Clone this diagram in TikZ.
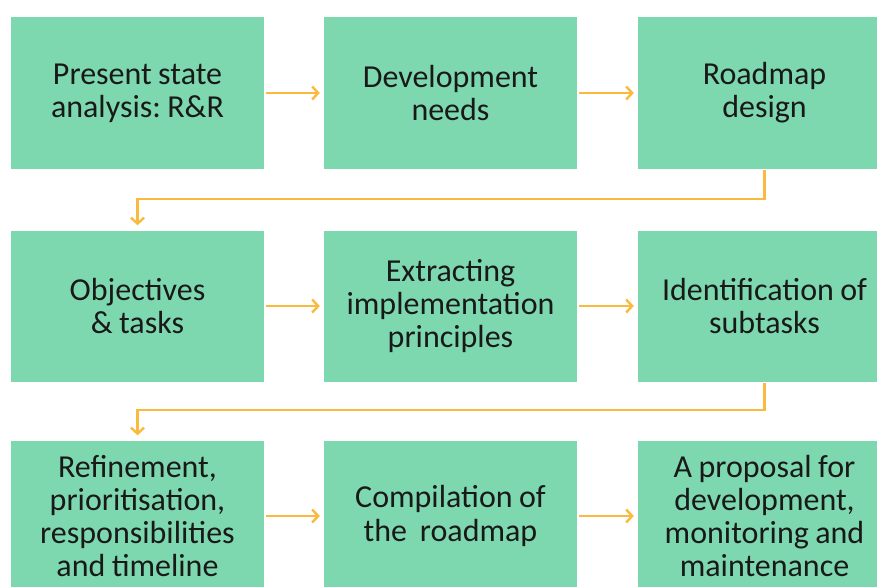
\documentclass[tikz,border=0pt]{standalone}
\usepackage{fontspec}
\setmainfont{Carlito}
\usetikzlibrary{arrows.meta}
\definecolor{boxgreen}{RGB}{125,216,176}
\definecolor{arrorange}{RGB}{250,186,62}
\newcommand\tightsp{\frenchspacing\spaceskip=0.2em\xspaceskip=0.2em\relax}
\begin{document}
\begin{tikzpicture}[x=1pt,y=-1pt,
  stepbox/.style={fill=boxgreen,draw=none,minimum width=253pt,minimum height=151pt,
    inner sep=0pt,text width=250pt,align=center,
    font=\fontsize{32}{33.2}\selectfont,text=black!90},
  conn/.style={draw=arrorange,line width=2.4pt,
    -{Straight Barb[length=6pt,width=13pt,line width=2.4pt]}}]
\useasboundingbox (0,0) rectangle (877,586);
\node[stepbox] (a) at (137.5,93) {\tightsp Present state\\analysis: R\&R};
\node[stepbox] (b) at (450.5,93) {\tightsp Development\\needs};
\node[stepbox] (c) at (764.5,93) {\tightsp Roadmap\\design};
\node[stepbox] (d) at (137.5,306) {\tightsp Objectives\\\& tasks};
\node[stepbox] (e) at (450.5,306) {\tightsp Extracting\\implementation\\principles};
\node[stepbox] (f) at (764.5,306) {\tightsp Identification of\\subtasks};
\node[stepbox] (g) at (137.5,516) {\tightsp Refinement,\\prioritisation,\\responsibilities\\and timeline};
\node[stepbox] (h) at (450.5,516) {\tightsp Compilation of\\the\hspace{0.4em}roadmap};
\node[stepbox] (i) at (764.5,516) {\tightsp A proposal for\\development,\\monitoring and\\maintenance};
\draw[conn,shorten <=2pt,shorten >=4pt] (a) -- (b);
\draw[conn,shorten <=2pt,shorten >=4pt] (b) -- (c);
\draw[conn,shorten <=2pt,shorten >=4pt] (d) -- (e);
\draw[conn,shorten <=2pt,shorten >=4pt] (e) -- (f);
\draw[conn,shorten <=2pt,shorten >=4pt] (g) -- (h);
\draw[conn,shorten <=2pt,shorten >=4pt] (h) -- (i);
\coordinate (k1) at (764.5,199);
\coordinate (k2) at (764.5,410);
\draw[conn,shorten <=1pt,shorten >=5pt] (c.south) -- (k1) -| (d.north);
\draw[conn,shorten <=1pt,shorten >=5pt] (f.south) -- (k2) -| (g.north);
\end{tikzpicture}
\end{document}
